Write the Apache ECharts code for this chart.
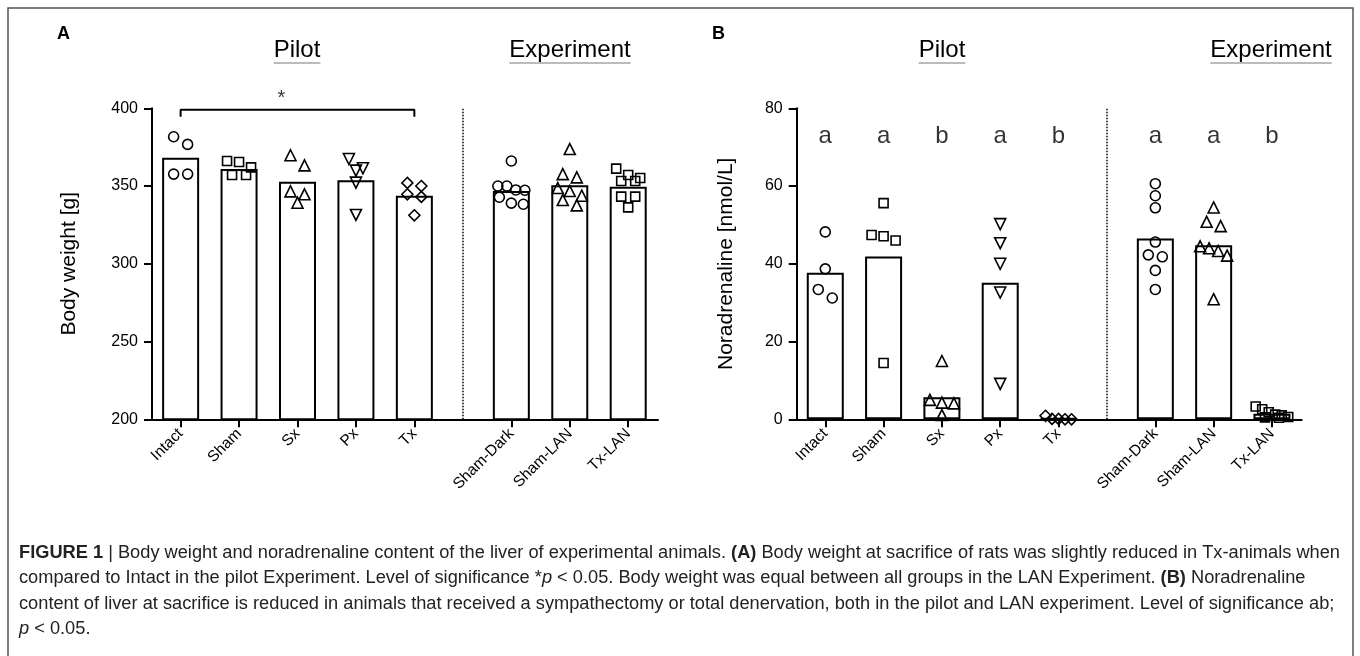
<!DOCTYPE html>
<html><head><meta charset="utf-8">
<script src="https://cdn.jsdelivr.net/npm/echarts@6/dist/echarts.min.js"></script>
<style>html,body{margin:0;padding:0;background:#fff}#c{width:1360px;height:656px}</style>
</head><body><div id="c"></div>
<script>
// ---------------- data ----------------
const categories = ['Intact', 'Sham', 'Sx', 'Px', 'Tx', 'Sham-Dark', 'Sham-LAN', 'Tx-LAN'];
const barWeight = [368.2, 361.0, 352.8, 353.7, 343.8, 346.8, 350.5, 349.6];
const ptsWeight = [
  [381.7, 376.8, 357.7, 357.7],
  [366.1, 362.0, 357.1, 357.1, 365.5],
  [369.8, 363.3, 346.6, 339.3, 344.7],
  [367.4, 359.9, 361.4, 352.2, 331.4],
  [352.0, 350.0, 344.7, 343.0, 331.2],
  [366.1, 350.0, 350.0, 347.5, 347.3, 342.8, 338.3, 339.0],
  [373.8, 355.6, 357.7, 348.7, 343.8, 346.8, 337.6, 341.0],
  [357.1, 361.2, 353.2, 353.2, 355.2, 343.2, 343.2, 336.3]
];
const barNA = [37.7, 41.9, 5.7, 35.1, 0.3, 46.5, 44.8, 1.4];
const ptsNA = [
  [48.2, 38.7, 33.4, 31.2],
  [55.6, 47.1, 46.0, 47.4, 14.5],
  [15.0, 4.3, 5.0, 4.1, 1.1],
  [50.2, 45.3, 40.0, 32.6, 9.1],
  [0.9, 0.1, 0.0, 0.1, 0.0],
  [60.6, 57.5, 54.4, 45.6, 42.3, 41.8, 38.3, 33.4],
  [54.5, 49.7, 50.8, 44.5, 43.3, 42.1, 44.0, 30.9],
  [2.6, 3.3, 1.8, 1.2, 1.0, 0.6, 0.4, 0.5]
];
const sigLetters = ['a', 'a', 'b', 'a', 'b', 'a', 'a', 'b'];
const sigStar = '*';
const groupTitles = ['Pilot', 'Experiment'];
const captionLines = [
  '{b|FIGURE 1} | Body weight and noradrenaline content of the liver of experimental animals. {b|(A)} Body weight at sacrifice of rats was slightly reduced in Tx-animals when',
  'compared to Intact in the pilot Experiment. Level of significance *{i|p} < 0.05. Body weight was equal between all groups in the LAN Experiment. {b|(B)} Noradrenaline',
  'content of liver at sacrifice is reduced in animals that received a sympathectomy or total denervation, both in the pilot and LAN experiment. Level of significance ab;',
  '{i|p} < 0.05.'
];

// ---------------- layout ----------------
const FONT = 'Liberation Sans, Arial, Helvetica, sans-serif';
const GRID_TOP = 108.3, GRID_H = 311;
const X_MIN = -0.49, X_MAX = 8.17, GAP = 0.66, DIVIDER = 4.83;
const pos = categories.map((c, i) => i < 5 ? i : i + GAP);
const panels = [
  { left: 152, width: 506, ymin: 200, ymax: 400, interval: 50, name: 'Body weight [g]', nameGap: 72, bars: barWeight, pts: ptsWeight, letter: 'A', letterX: 57, titleX: [297, 570] },
  { left: 796.7, width: 505, ymin: 0, ymax: 80, interval: 20, name: 'Noradrenaline [nmol/L]', nameGap: 60, bars: barNA, pts: ptsNA, letter: 'B', letterX: 712, titleX: [942, 1271] }
];
const shapes = ['circle', 'rect', 'triangle', 'triangle', 'diamond', 'circle', 'triangle', 'rect'];
const rots = [0, 0, 0, 180, 0, 0, 0, 0];
const sizes = { circle: 10, rect: 9, triangle: 11, diamond: 11 };

function labelFor(v) {
  for (let i = 0; i < pos.length; i++) if (Math.abs(pos[i] - v) < 1e-6) return categories[i];
  return '';
}

// row-binned dot layout (pixel offsets), similar to a scatter dot plot
function dotOffsets(vals, pxPerUnit, rowH) {
  const order = vals.map((v, i) => i).sort((a, b) => vals[b] - vals[a]);
  const rows = [];
  let cur = null;
  order.forEach(i => {
    if (cur && (cur.top - vals[i]) * pxPerUnit <= rowH) cur.idx.push(i);
    else { cur = { top: vals[i], idx: [i] }; rows.push(cur); }
  });
  const off = new Array(vals.length).fill(0);
  rows.forEach(r => {
    const n = r.idx.length;
    const s = n === 1 ? 0 : n === 2 ? 14 : n === 3 ? 12 : n === 4 ? 9 : 6.5;
    r.idx.forEach((i, k) => { off[i] = (k - (n - 1) / 2) * s; });
  });
  return off;
}

const grid = [], xAxis = [], yAxis = [], series = [], graphic = [];

const measureCtx = document.createElement('canvas').getContext('2d');
function textWidth(t, font) { measureCtx.font = font; return measureCtx.measureText(t).width; }
function richWidth(line, size) {
  let w = 0;
  const re = /\{(b|i)\|([^}]*)\}|([^{]+)/g;
  let m;
  while ((m = re.exec(line))) {
    if (m[3]) w += textWidth(m[3], size + 'px ' + FONT);
    else w += textWidth(m[2], (m[1] === 'b' ? 'bold ' : 'italic ') + size + 'px ' + FONT);
  }
  return w;
}

panels.forEach((P, p) => {
  grid.push({ left: P.left, top: GRID_TOP, width: P.width, height: GRID_H, containLabel: false });
  xAxis.push({
    gridIndex: p, type: 'value', min: X_MIN, max: X_MAX, splitLine: { show: false },
    axisLine: { show: true, onZero: false, lineStyle: { color: '#000', width: 2 } },
    axisTick: { show: true, customValues: pos, length: 8, lineStyle: { color: '#000', width: 2 } },
    axisLabel: { show: true, customValues: pos, rotate: 45, margin: 12, fontSize: 15.5, color: '#000', fontFamily: FONT, formatter: v => labelFor(v) }
  });
  yAxis.push({
    gridIndex: p, type: 'value', min: P.ymin, max: P.ymax, interval: P.interval, splitLine: { show: false },
    axisLine: { show: true, onZero: false, lineStyle: { color: '#000', width: 2 } },
    axisTick: { show: true, length: 8, lineStyle: { color: '#000', width: 2 } },
    axisLabel: { fontSize: 16, color: '#000', margin: 14, fontFamily: FONT },
    name: P.name, nameLocation: 'middle', nameRotate: 90, nameGap: P.nameGap,
    nameTextStyle: { fontSize: 21, color: '#000', fontFamily: FONT }
  });
  series.push({
    type: 'bar', xAxisIndex: p, yAxisIndex: p, barWidth: 37, clip: true, silent: true, z: 2,
    data: pos.map((x, i) => [x, P.bars[i]]),
    itemStyle: { color: '#fff', borderColor: '#000', borderWidth: 2 },
    markLine: { silent: true, symbol: 'none', label: { show: false }, animation: false,
      lineStyle: { color: '#000', type: [1.5, 1.5], width: 1.5 }, data: [{ xAxis: DIVIDER }] }
  });
  const yPx = GRID_H / (P.ymax - P.ymin);
  const xPx = P.width / (X_MAX - X_MIN);
  P.pts.forEach((vals, i) => {
    const offs = dotOffsets(vals, yPx, 10.5);
    series.push({
      type: 'scatter', xAxisIndex: p, yAxisIndex: p, clip: false, silent: true, z: 4,
      symbol: shapes[i], symbolRotate: rots[i], symbolSize: sizes[shapes[i]],
      itemStyle: { color: 'rgba(0,0,0,0)', borderColor: '#000', borderWidth: 1.6, opacity: 1 },
      data: vals.map((v, k) => [pos[i] + offs[k] / xPx, v])
    });
  });
  graphic.push({ type: 'text', left: P.letterX, top: 25, style: { text: P.letter, font: 'bold 18px ' + FONT, fill: '#000' } });
  groupTitles.forEach((t, k) => {
    const f = '24px ' + FONT;
    const w = textWidth(t, f);
    graphic.push({ type: 'text', x: P.titleX[k], y: 50, style: { text: t, font: f, fill: '#000', align: 'center', verticalAlign: 'middle' } });
    graphic.push({ type: 'line', shape: { x1: P.titleX[k] - w / 2, y1: 63, x2: P.titleX[k] + w / 2, y2: 63 }, style: { stroke: '#bbb', lineWidth: 2 } });
  });
});

// significance bracket (panel A)
const BRACKET_TOP = 399, BRACKET_END = 394.5;
series.push({
  type: 'line', xAxisIndex: 0, yAxisIndex: 0, symbol: 'none', silent: true, clip: false, z: 5,
  lineStyle: { color: '#000', width: 2 },
  data: [[pos[0], BRACKET_END], [pos[0], BRACKET_TOP], [pos[4], BRACKET_TOP], [pos[4], BRACKET_END]]
});
series.push({
  type: 'scatter', xAxisIndex: 0, yAxisIndex: 0, symbolSize: 0, silent: true, clip: false,
  data: [[(pos[0] + pos[4]) / 2, BRACKET_TOP]],
  label: { show: true, position: 'top', distance: 1, offset: [-16, 0], formatter: () => sigStar, fontSize: 20, color: '#000', fontFamily: FONT }
});
// significance letters (panel B)
const LETTER_LEVEL = 72.7;
series.push({
  type: 'scatter', xAxisIndex: 1, yAxisIndex: 1, symbolSize: 0, silent: true, clip: false,
  data: pos.map(x => [x, LETTER_LEVEL]),
  label: { show: true, position: 'inside', formatter: p => sigLetters[p.dataIndex], fontSize: 24, color: '#000', fontFamily: FONT }
});

// frame and caption (condensed face emulated with horizontal scale)
graphic.push({ type: 'rect', shape: { x: 8, y: 8, width: 1345, height: 700 }, style: { fill: 'none', stroke: '#555', lineWidth: 1.5 }, z: -1 });
const CAP_SIZE = 17.5, CAP_LEFT = 19, CAP_W = 1321;
const capScale = CAP_W / richWidth(captionLines[0], CAP_SIZE);
captionLines.forEach((t, k) => {
  graphic.push({ type: 'text', x: CAP_LEFT, y: 553 + k * 25.5, scaleX: capScale, originX: 0, style: {
    text: t, font: CAP_SIZE + 'px ' + FONT, fill: '#222', verticalAlign: 'middle',
    rich: { b: { fontWeight: 'bold', fontSize: CAP_SIZE, fontFamily: FONT, fill: '#222' }, i: { fontStyle: 'italic', fontSize: CAP_SIZE, fontFamily: FONT, fill: '#222' } }
  } });
});

const chart = echarts.init(document.getElementById('c'), null, { renderer: 'canvas' });
chart.setOption({ animation: false, backgroundColor: '#fff', textStyle: { fontFamily: FONT }, grid, xAxis, yAxis, series, graphic });
</script></body></html>
